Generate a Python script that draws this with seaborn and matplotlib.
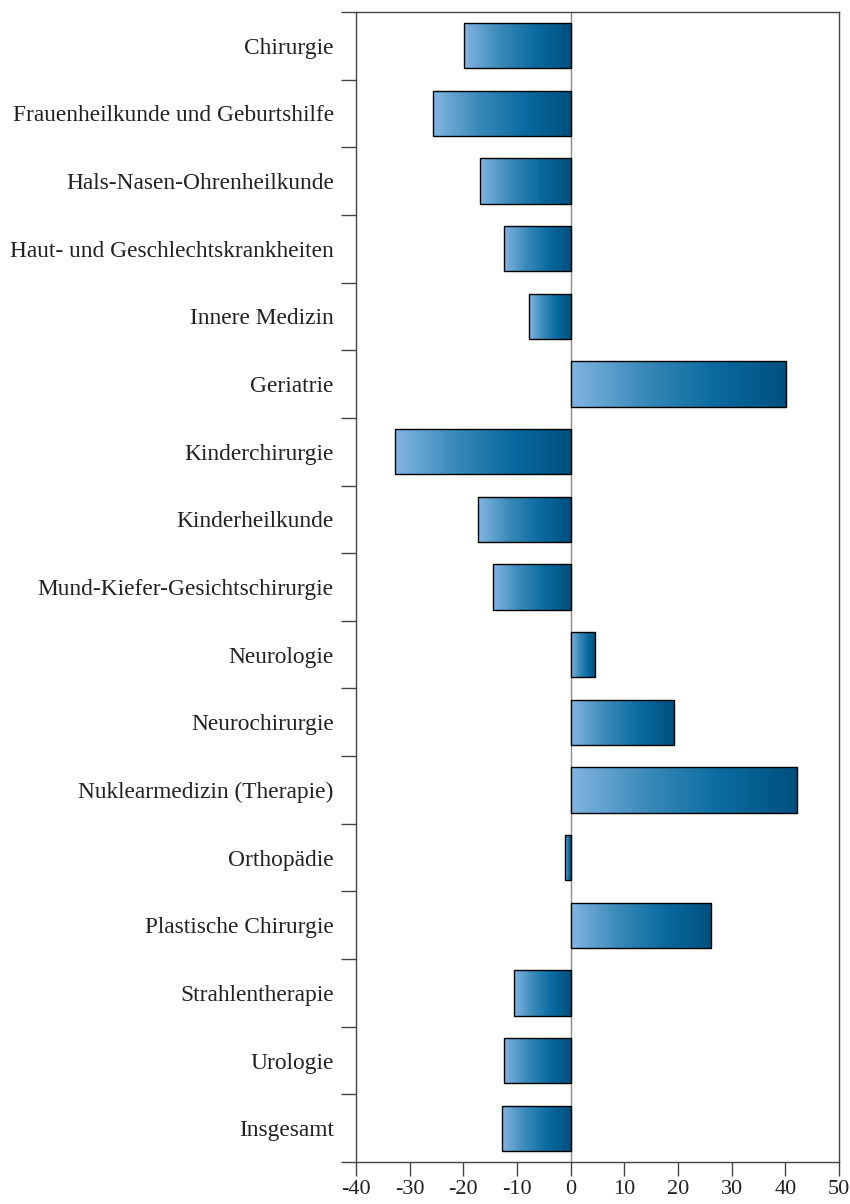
import numpy as np
import pandas as pd
import matplotlib
matplotlib.use("Agg")
import matplotlib.pyplot as plt
import seaborn as sns
from matplotlib.colors import LinearSegmentedColormap

# Fachabteilungen und Abweichung in Prozent
fachabteilungen = [
    "Chirurgie",
    "Frauenheilkunde und Geburtshilfe",
    "Hals-Nasen-Ohrenheilkunde",
    "Haut- und Geschlechtskrankheiten",
    "Innere Medizin",
    "Geriatrie",
    "Kinderchirurgie",
    "Kinderheilkunde",
    "Mund-Kiefer-Gesichtschirurgie",
    "Neurologie",
    "Neurochirurgie",
    "Nuklearmedizin (Therapie)",
    "Orthopädie",
    "Plastische Chirurgie",
    "Strahlentherapie",
    "Urologie",
    "Insgesamt",
]
werte = [-19.8, -25.7, -16.9, -12.4, -7.8, 40.2, -32.7, -17.3, -14.5,
         4.5, 19.2, 42.2, -1.1, 26.1, -10.6, -12.4, -12.8]
x_ticks = [-40, -30, -20, -10, 0, 10, 20, 30, 40, 50]

df = pd.DataFrame({"fach": fachabteilungen, "wert": werte})

sns.set_style("white")
plt.rcParams["font.family"] = ["Liberation Serif", "DejaVu Serif"]

fig = plt.figure(figsize=(8.5, 12.04), dpi=100)
ax = fig.add_axes([356 / 850, 1 - 1162 / 1204, (839 - 356) / 850, (1162 - 12) / 1204])

sns.barplot(data=df, x="wert", y="fach", orient="h", width=0.67,
            color="white", edgecolor="black", linewidth=1.0, ax=ax, zorder=3)

# Farbverlauf in jedem Balken
cmap = LinearSegmentedColormap.from_list("blau", ["#82b4e2", "#3a8ab9", "#0a6aa0", "#00507f"])
grad = np.linspace(0, 1, 256).reshape(1, -1)
for bar in ax.patches:
    x0, y0 = bar.get_x(), bar.get_y()
    w, h = bar.get_width(), bar.get_height()
    left, right = min(x0, x0 + w), max(x0, x0 + w)
    im = ax.imshow(grad, cmap=cmap, aspect="auto", extent=[left, right, y0 + h, y0],
                   zorder=2, interpolation="bicubic")
    im.set_clip_path(bar)
    bar.set_facecolor("none")

ax.axvline(0, color="#8a8a8a", linewidth=1.0, zorder=1)

ax.set_xlim(-40, 50)
ax.set_ylim(len(fachabteilungen) - 0.5, -0.5)
ax.set_xticks(x_ticks)
ax.set_xticklabels([str(t) for t in x_ticks])
ax.set_yticks(range(len(fachabteilungen)))
ax.set_yticks(np.arange(-0.5, len(fachabteilungen)), minor=True)
ax.set_xlabel("")
ax.set_ylabel("")

ax.tick_params(axis="y", which="major", length=0, pad=16, labelsize=16.8, labelcolor="#222222")
ax.tick_params(axis="y", which="minor", left=True, length=11, width=1.0, color="#444444", direction="out")
ax.tick_params(axis="x", bottom=True, length=10, width=1.0, color="#444444", direction="out",
               labelsize=16, labelcolor="#222222", pad=3)

for s in ax.spines.values():
    s.set_color("#444444")
    s.set_linewidth(1.0)

fig.savefig("out.png", dpi=100, facecolor="white")
